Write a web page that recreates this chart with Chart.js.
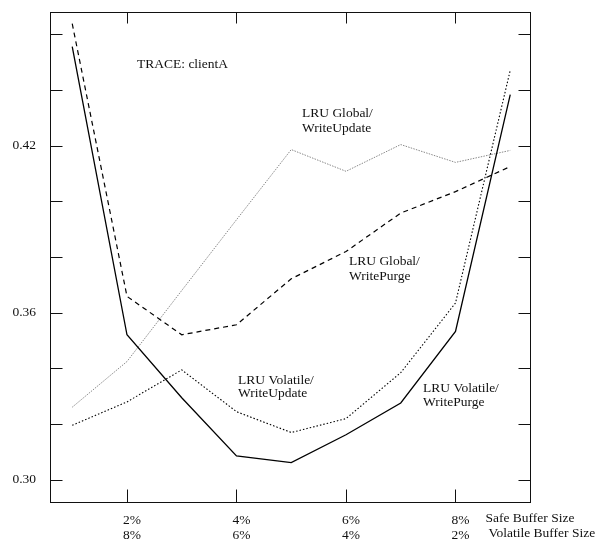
<!DOCTYPE html>
<html>
<head>
<meta charset="utf-8">
<title>TRACE: clientA</title>
<script src="https://cdn.jsdelivr.net/npm/chart.js@4.4.1/dist/chart.umd.min.js"></script>
<style>
  html, body { margin: 0; padding: 0; background: #fff; }
  #wrap { width: 599px; height: 539px; }
</style>
</head>
<body>
<div id="wrap"><canvas id="c" width="599" height="539"></canvas></div>
<script>
// Safe buffer size (% of memory) for each measured configuration
const safePct = [1, 2, 3, 4, 5, 6, 7, 8, 9];

// Measured ratio for each policy combination
const volatileWritePurge  = [0.4556, 0.3521, 0.3295, 0.3086, 0.3062, 0.3162, 0.3276, 0.3533, 0.4383];
const globalWritePurge    = [0.4638, 0.3659, 0.3521, 0.3557, 0.3722, 0.3820, 0.3958, 0.4035, 0.4125];
const volatileWriteUpdate = [0.3196, 0.3280, 0.3395, 0.3245, 0.3170, 0.3220, 0.3385, 0.3635, 0.4471];
const globalWriteUpdate   = [0.3261, 0.3425, 0.3680, 0.3934, 0.4186, 0.4108, 0.4204, 0.4140, 0.4183];

// Axis ticks
const xTickValues = [2, 4, 6, 8];
const safeLabels = ['2%', '4%', '6%', '8%'];
const volatileLabels = ['8%', '6%', '4%', '2%'];
const yTickValues = [0.30, 0.32, 0.34, 0.36, 0.38, 0.40, 0.42, 0.44, 0.46];
const yLabelled = [0.30, 0.36, 0.42];

const SERIF = '"Liberation Serif", "DejaVu Serif", serif';

function series(values) {
  return values.map((v, i) => ({ x: safePct[i], y: v }));
}

// Frame, inward tick marks and curve annotations
const framePlugin = {
  id: 'frame',
  afterDraw(chart) {
    const { ctx, chartArea: a, scales } = chart;
    const L = Math.round(a.left) + 0.5, R = Math.round(a.right) - 0.5;
    const T = Math.round(a.top) + 0.5, B = Math.round(a.bottom) - 0.5;
    ctx.save();
    ctx.strokeStyle = '#111';
    ctx.lineWidth = 1;
    ctx.setLineDash([]);
    ctx.strokeRect(L, T, R - L, B - T);
    ctx.beginPath();
    yTickValues.forEach(v => {
      const py = Math.round(scales.y.getPixelForValue(v)) + 0.5;
      ctx.moveTo(L, py); ctx.lineTo(L + 12, py);
      ctx.moveTo(R, py); ctx.lineTo(R - 12, py);
    });
    xTickValues.forEach(v => {
      const px = Math.round(scales.x.getPixelForValue(v)) + 0.5;
      ctx.moveTo(px, T); ctx.lineTo(px, T + 11);
      ctx.moveTo(px, B); ctx.lineTo(px, B - 13);
    });
    ctx.stroke();

    ctx.fillStyle = '#111';
    ctx.font = '13.5px ' + SERIF;
    ctx.textAlign = 'left';
    ctx.textBaseline = 'alphabetic';
    const notes = [
      ['TRACE: clientA', 137, 68],
      ['LRU Global/', 302, 117],
      ['WriteUpdate', 302, 132],
      ['LRU Global/', 349, 265],
      ['WritePurge', 349, 280],
      ['LRU Volatile/', 238, 384],
      ['WriteUpdate', 238, 397],
      ['LRU Volatile/', 423, 392],
      ['WritePurge', 423, 406]
    ];
    notes.forEach(([t, x, y]) => ctx.fillText(t, x, y));

    // axis captions beside the last tick labels
    const x8 = scales.x.getPixelForValue(8);
    ctx.fillText('Safe Buffer Size', x8 + 30, 522);
    ctx.fillText('Volatile Buffer Size', x8 + 33, 537);
    ctx.restore();
  }
};

new Chart(document.getElementById('c'), {
  type: 'line',
  data: {
    datasets: [
      { label: 'LRU Volatile/WritePurge', data: series(volatileWritePurge),
        borderColor: '#000', borderWidth: 1.3, borderDash: [] },
      { label: 'LRU Global/WritePurge', data: series(globalWritePurge),
        borderColor: '#000', borderWidth: 1.2, borderDash: [5, 4] },
      { label: 'LRU Volatile/WriteUpdate', data: series(volatileWriteUpdate),
        borderColor: '#000', borderWidth: 1.1, borderDash: [1.5, 2] },
      { label: 'LRU Global/WriteUpdate', data: series(globalWriteUpdate),
        borderColor: '#888', borderWidth: 1, borderDash: [1.5, 1.2] }
    ]
  },
  options: {
    responsive: false,
    animation: false,
    devicePixelRatio: 1,
    layout: { padding: { top: 12, right: 68, left: 0, bottom: 0 } },
    elements: { point: { radius: 0 }, line: { tension: 0, fill: false } },
    plugins: { legend: { display: false }, tooltip: { enabled: false } },
    scales: {
      x: {
        type: 'linear',
        min: 0.594,
        max: 9.379,
        grid: { display: false, drawTicks: false },
        border: { display: false },
        afterBuildTicks(scale) { scale.ticks = xTickValues.map(v => ({ value: v })); },
        afterFit(scale) {
          scale.height = 36;
          scale.paddingLeft = 0; scale.paddingRight = 0;
        },
        ticks: {
          padding: 10,
          labelOffset: 5,
          maxRotation: 0,
          autoSkip: false,
          color: '#111',
          font: { family: SERIF, size: 13.5, lineHeight: 1.1 },
          callback(v) {
            const i = xTickValues.indexOf(v);
            return i < 0 ? '' : [safeLabels[i], volatileLabels[i]];
          }
        }
      },
      y: {
        type: 'linear',
        min: 0.2917,
        max: 0.468,
        grid: { display: false, drawTicks: false },
        border: { display: false },
        afterBuildTicks(scale) { scale.ticks = yTickValues.map(v => ({ value: v })); },
        afterFit(scale) {
          scale.width = 50;
          scale.paddingTop = 0; scale.paddingBottom = 0;
        },
        ticks: {
          padding: 14,
          autoSkip: false,
          color: '#111',
          font: { family: SERIF, size: 13.5 },
          callback(v) {
            return yLabelled.some(t => Math.abs(t - v) < 1e-6) ? v.toFixed(2) : '';
          }
        }
      }
    }
  },
  plugins: [framePlugin]
});
</script>
</body>
</html>
